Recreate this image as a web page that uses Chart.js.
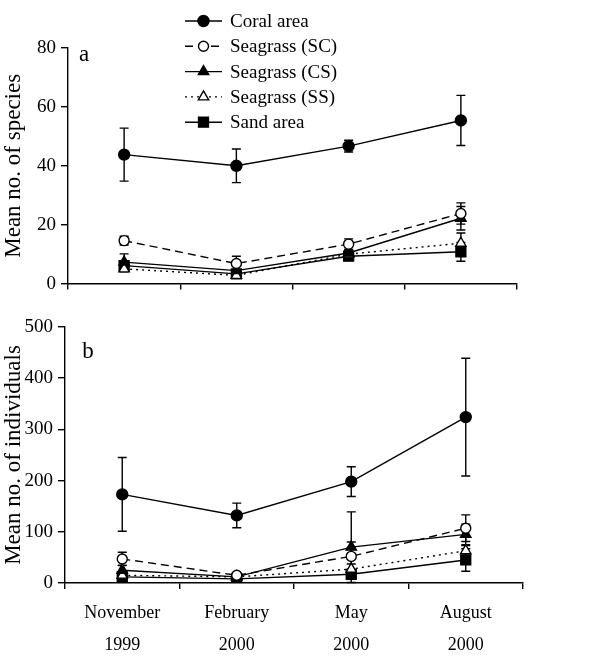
<!DOCTYPE html>
<html>
<head>
<meta charset="utf-8">
<script src="https://cdn.jsdelivr.net/npm/chart.js@4/dist/chart.umd.min.js"></script>
<style>
  body { margin: 0; background: #fff; }
  #wrap { position: relative; width: 613px; height: 657px; }
  canvas { position: absolute; left: 0; }
</style>
</head>
<body>
<div id="wrap">
  <canvas id="speciesChart" width="613" height="300" style="top:0"></canvas>
  <canvas id="individualsChart" width="613" height="357" style="top:300px"></canvas>
</div>
<script>
const months = [["November", "1999"], ["February", "2000"], ["May", "2000"], ["August", "2000"]];
const seriesNames = ["Coral area", "Seagrass (SC)", "Seagrass (CS)", "Seagrass (SS)", "Sand area"];

// panel a - mean no. of species (+/- SE)
const speciesCoral = [43.8, 40.0, 46.7, 55.4];
const speciesCoralErr = [9, 5.7, 2, 8.5];
const speciesSC = [14.6, 6.8, 13.4, 23.8];
const speciesSCErr = [1.5, 2.5, 1.8, 3.6];
const speciesCS = [7.3, 4.4, 10.4, 22.2];
const speciesCSErr = [2.8, 1.5, 1, 4];
const speciesSS = [5.0, 2.8, 10.0, 13.7];
const speciesSSErr = [1, 0.8, 1, 3.5];
const speciesSand = [6.1, 3.3, 9.3, 10.8];
const speciesSandErr = [1.5, 1, 1, 3.2];
const speciesTicks = [0, 20, 40, 60, 80];

// panel b - mean no. of individuals (+/- SE)
const indivCoral = [173, 132, 198, 324];
const indivCoralErr = [72, 24, 29, 115];
const indivSC = [47, 15, 52, 107];
const indivSCErr = [13, 4, 28, 26];
const indivCS = [25, 12, 70, 95];
const indivCSErr = [10, 3, 69, 20];
const indivSS = [15, 12, 27, 63];
const indivSSErr = [4, 2, 10, 10];
const indivSand = [12, 8, 17, 45];
const indivSandErr = [8, 3, 10, 22];
const indivTicks = [0, 100, 200, 300, 400, 500];

const serif = "'Liberation Serif', 'DejaVu Serif', serif";

const styles = [
  { pointStyle: "circle", radius: 5.5, fill: "#000", dash: [] },
  { pointStyle: "circle", radius: 5, fill: "#fff", dash: [8, 5] },
  { pointStyle: "triangle", radius: 6, fill: "#000", dash: [] },
  { pointStyle: "triangle", radius: 6, fill: "#fff", dash: [2, 4] },
  { pointStyle: "rect", radius: 7, fill: "#000", dash: [] },
];

function makeDatasets(means, errs) {
  return means.map((m, i) => ({
    label: seriesNames[i],
    data: m,
    errors: errs[i],
    borderColor: "#000",
    borderWidth: 1.4,
    borderDash: styles[i].dash,
    pointStyle: styles[i].pointStyle,
    pointRadius: styles[i].radius,
    pointBackgroundColor: styles[i].fill,
    pointBorderColor: "#000",
    pointBorderWidth: 1.4,
    tension: 0,
    fill: false,
  }));
}

// error bars, drawn under the markers
const errorBars = {
  id: "errorBars",
  beforeDatasetsDraw(chart) {
    const ctx = chart.ctx;
    const yScale = chart.scales.y;
    ctx.save();
    ctx.strokeStyle = "#000";
    ctx.lineWidth = 1.4;
    ctx.setLineDash([]);
    chart.data.datasets.forEach((ds, di) => {
      const meta = chart.getDatasetMeta(di);
      meta.data.forEach((pt, i) => {
        const e = ds.errors[i];
        if (!e) return;
        const top = yScale.getPixelForValue(ds.data[i] + e);
        const bot = yScale.getPixelForValue(Math.max(0, ds.data[i] - e));
        ctx.beginPath();
        ctx.moveTo(pt.x, top);
        ctx.lineTo(pt.x, bot);
        ctx.moveTo(pt.x - 4.5, top);
        ctx.lineTo(pt.x + 4.5, top);
        ctx.moveTo(pt.x - 4.5, bot);
        ctx.lineTo(pt.x + 4.5, bot);
        ctx.stroke();
      });
    });
    ctx.restore();
  },
};

// panel letter
const panelLabel = {
  id: "panelLabel",
  afterDraw(chart, args, opts) {
    const ctx = chart.ctx;
    ctx.save();
    ctx.fillStyle = "#000";
    ctx.font = "23px " + serif;
    ctx.textAlign = "center";
    ctx.textBaseline = "middle";
    ctx.fillText(opts.text, opts.x, opts.y);
    ctx.restore();
  },
};

// vertical legend above panel a
const stackedLegend = {
  id: "stackedLegend",
  afterDraw(chart, args, opts) {
    if (!opts.show) return;
    const ctx = chart.ctx;
    ctx.save();
    chart.data.datasets.forEach((ds, i) => {
      const y = opts.top + i * opts.step;
      ctx.strokeStyle = "#000";
      ctx.lineWidth = 1.4;
      ctx.setLineDash(ds.borderDash);
      ctx.beginPath();
      ctx.moveTo(opts.x0, y);
      ctx.lineTo(opts.x1, y);
      ctx.stroke();
      ctx.setLineDash([]);
      ctx.fillStyle = ds.pointBackgroundColor;
      Chart.helpers.drawPoint(ctx, {
        pointStyle: ds.pointStyle,
        radius: ds.pointRadius,
        borderWidth: 1.4,
        rotation: 0,
      }, (opts.x0 + opts.x1) / 2, y);
      ctx.fillStyle = "#000";
      ctx.font = "19px " + serif;
      ctx.textAlign = "left";
      ctx.textBaseline = "middle";
      ctx.fillText(ds.label, opts.x1 + 8, y + 1);
    });
    ctx.restore();
  },
};

function makeChart(id, cfg) {
  return new Chart(document.getElementById(id), {
    type: "line",
    data: { labels: months, datasets: cfg.datasets },
    plugins: [errorBars, panelLabel, stackedLegend],
    options: {
      responsive: false,
      animation: false,
      layout: { padding: { top: cfg.padTop, right: cfg.padRight, left: 0, bottom: 0 } },
      plugins: {
        legend: { display: false },
        tooltip: { enabled: false },
        panelLabel: cfg.letter,
        stackedLegend: cfg.legend,
      },
      scales: {
        x: {
          offset: true,
          grid: { offset: true, drawOnChartArea: false, tickLength: 6, color: "#000", lineWidth: 1.4 },
          border: { color: "#000", width: 1.4 },
          ticks: {
            display: cfg.showX,
            color: "#000",
            maxRotation: 0,
            padding: 8,
            font: { family: serif, size: 18, lineHeight: 1.8 },
          },
          afterFit: (s) => { s.height = cfg.xHeight; },
        },
        y: {
          min: 0,
          max: cfg.ticks[cfg.ticks.length - 1],
          afterBuildTicks: (s) => { s.ticks = cfg.ticks.map((v) => ({ value: v })); },
          grid: { drawOnChartArea: false, tickLength: 7, color: "#000", lineWidth: 1.4 },
          border: { color: "#000", width: 1.4 },
          ticks: { color: "#000", padding: 5, font: { family: serif, size: 19 } },
          title: {
            display: true,
            text: cfg.yTitle,
            color: "#000",
            padding: { top: 0, bottom: 0 },
            font: { family: serif, size: 23 },
          },
          afterFit: (s) => { s.width = cfg.yWidth; },
        },
      },
    },
  });
}

makeChart("speciesChart", {
  datasets: makeDatasets(
    [speciesCoral, speciesSC, speciesCS, speciesSS, speciesSand],
    [speciesCoralErr, speciesSCErr, speciesCSErr, speciesSSErr, speciesSandErr]
  ),
  ticks: speciesTicks,
  yTitle: "Mean no. of species",
  padTop: 48,
  padRight: 96,
  xHeight: 8,
  yWidth: 68,
  showX: false,
  letter: { text: "a", x: 84, y: 55 },
  legend: { show: true, x0: 185, x1: 222, top: 21, step: 25.3 },
});

makeChart("individualsChart", {
  datasets: makeDatasets(
    [indivCoral, indivSC, indivCS, indivSS, indivSand],
    [indivCoralErr, indivSCErr, indivCSErr, indivSSErr, indivSandErr]
  ),
  ticks: indivTicks,
  yTitle: "Mean no. of individuals",
  padTop: 27,
  padRight: 90,
  xHeight: 74,
  yWidth: 65,
  showX: true,
  letter: { text: "b", x: 88, y: 52 },
  legend: { show: false },
});
</script>
</body>
</html>
